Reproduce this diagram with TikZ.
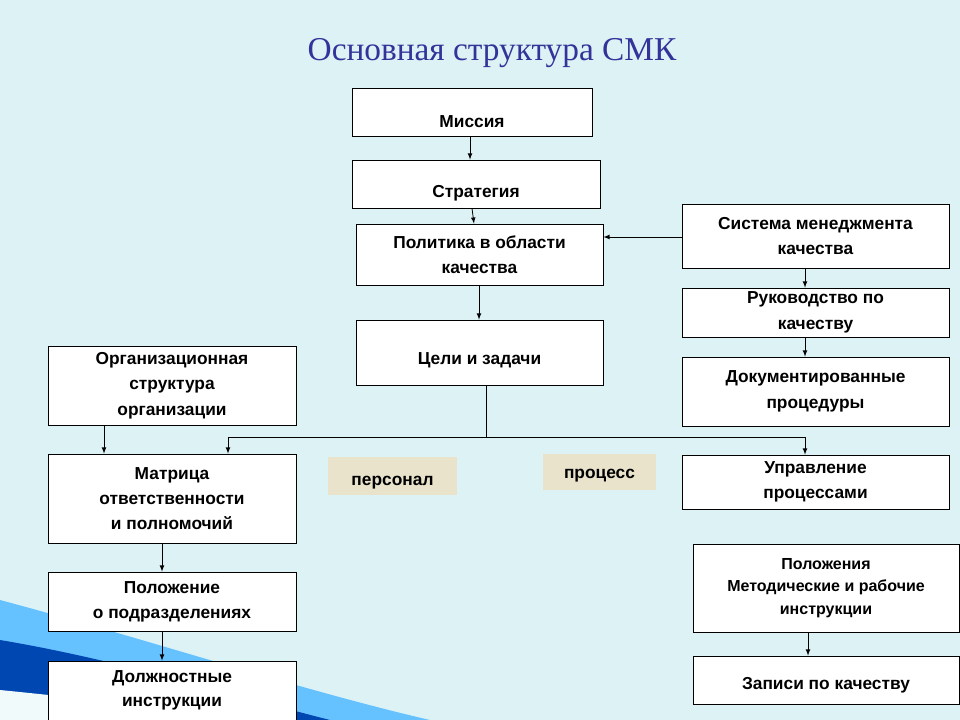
\documentclass[tikz,border=0pt]{standalone}
\usepackage{fontspec}
\setmainfont{Liberation Sans}
\newfontfamily\titlefont{Liberation Serif}
\newcommand\lowr[2]{\raisebox{-#1}[\height][\depth]{#2}}
\begin{document}
\begin{tikzpicture}[x=0.75pt,y=-0.75pt,
  box/.style={draw=black,fill=white,line width=0.6pt,align=center,font=\bfseries\fontsize{13}{19}\selectfont,inner sep=0pt},
  tag/.style={fill=tagc,align=center,font=\bfseries\fontsize{13}{16}\selectfont,inner sep=0pt},
  arr/.style={-latex,line width=0.6pt}]
\definecolor{bgc}{HTML}{DDF2F5}
\definecolor{tagc}{HTML}{E9E3CB}
\definecolor{titc}{HTML}{33339A}
\useasboundingbox (0,0) rectangle (960,720);
\fill[bgc] (0,0) rectangle (960,720);
% bottom-left swoosh
\fill[blue!40!cyan!60] (0,600) .. controls (150,640) and (300,690) .. (430,720) -- (0,720) -- cycle;
\fill[blue!60!cyan!70!black] (0,640) .. controls (120,660) and (250,700) .. (330,720) -- (0,720) -- cycle;
\fill[white!60!bgc] (0,690) .. controls (100,700) and (200,712) .. (260,720) -- (0,720) -- cycle;
\node[font=\titlefont\fontsize{25}{30}\selectfont,text=titc] (title) at (492,53) {Основная структура СМК};
\newcommand\bx[6]{\node[box,minimum width={(#4-#2)*0.75pt},minimum height={(#5-#3)*0.75pt}] (#1) at ({(#2+#4)/2},{(#3+#5)/2}) {#6};}
\bx{mis}{352}{88}{592}{136}{\lowr{7pt}{Миссия}}
\bx{str}{352}{160}{600}{208}{\lowr{7pt}{Стратегия}}
\bx{pol}{356}{224}{603}{285}{Политика в области\\качества}
\bx{sys}{682}{204}{949}{268}{Система менеджмента\\качества}
\bx{ruk}{682}{288}{949}{337}{Руководство по\\качеству}
\bx{doc}{682}{357}{949}{426}{Документированные\\процедуры}
\bx{cel}{356}{320}{603}{385}{\lowr{6pt}{Цели и задачи}}
\bx{org}{48}{346}{296}{425}{Организационная\\структура\\организации}
\bx{mat}{48}{454}{296}{543}{Матрица\\ответственности\\и полномочий}
\bx{upr}{682}{455}{949}{509}{Управление\\процессами}
\node[box,font=\bfseries\fontsize{12}{17}\selectfont,minimum width=199.5pt,minimum height=66pt] (polo) at (826,588) {Положения\\Методические и рабочие\\инструкции};
\bx{pod}{48}{572}{296}{631}{Положение\\о подразделениях}
\bx{dol}{48}{661}{296}{730}{\lowr{-4pt}{\shortstack{Должностные\\[5pt]инструкции}}}
\bx{zap}{693}{656}{959}{704}{\lowr{4pt}{Записи по качеству}}
\node[tag,minimum width=96.75pt,minimum height=28.5pt] (pers) at (392.5,476) {\lowr{5pt}{персонал}};
\node[tag,minimum width=84.75pt,minimum height=27pt] (proc) at (599.5,472) {\lowr{3pt}{процесс}};
\draw[arr] (mis.south -| 470,0) -- (str.north -| 470,0);
\draw[arr] (str.south -| 472,0) -- (pol.north -| 474,0);
\draw[arr] (sys.west |- 0,237) -- (pol.east |- 0,237);
\draw[arr] (pol.south -| 479,0) -- (cel.north -| 479,0);
\draw[arr] (sys.south -| 805,0) -- (ruk.north -| 805,0);
\draw[arr] (ruk.south -| 805,0) -- (doc.north -| 805,0);
\coordinate (j) at (486,437);
\draw[line width=0.6pt] (cel.south -| j) -- (j);
\draw[arr] (j) -| (mat.north -| 228,0);
\draw[arr] (j) -| (upr.north -| 805,0);
\draw[arr] (org.south -| 104,0) -- (mat.north -| 104,0);
\draw[arr] (mat.south -| 162,0) -- (pod.north -| 162,0);
\draw[arr] (pod.south -| 162,0) -- (dol.north -| 162,0);
\draw[arr] (polo.south -| 808,0) -- (zap.north -| 808,0);
\end{tikzpicture}
\end{document}
